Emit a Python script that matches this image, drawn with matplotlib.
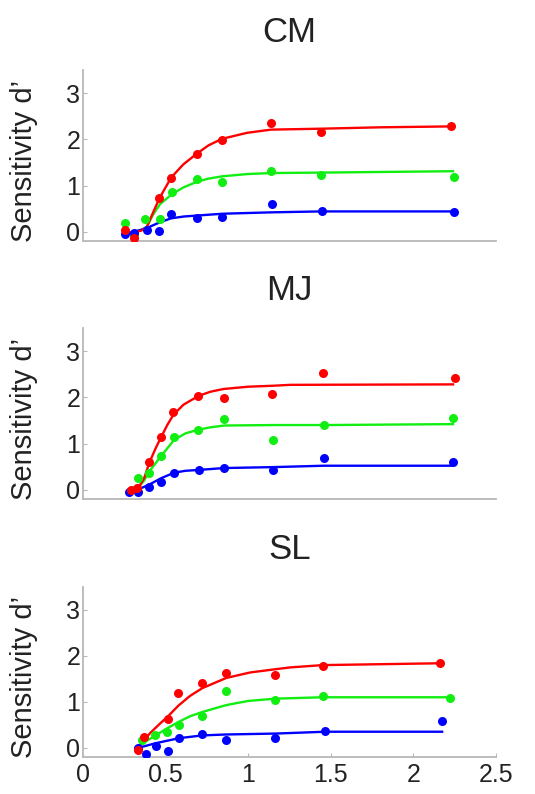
import numpy as np
import matplotlib
matplotlib.use('Agg')
import matplotlib.pyplot as plt

plt.rcParams['font.family'] = ['Liberation Sans', 'DejaVu Sans']

observers = ['CM', 'MJ', 'SL']

# measured points, per observer and colour
cm_red_x = [0.255, 0.31, 0.462, 0.533, 0.689, 0.841, 1.139, 1.441, 2.23]
cm_red_y = [0.03, -0.14, 0.72, 1.17, 1.68, 1.99, 2.36, 2.16, 2.28]
cm_green_x = [0.255, 0.311, 0.376, 0.467, 0.538, 0.689, 0.844, 1.139, 1.441, 2.248]
cm_green_y = [0.20, -0.06, 0.27, 0.27, 0.87, 1.14, 1.07, 1.32, 1.23, 1.18]
cm_blue_x = [0.255, 0.311, 0.386, 0.462, 0.533, 0.689, 0.844, 1.144, 1.447, 2.244]
cm_blue_y = [-0.05, -0.03, 0.04, 0.02, 0.38, 0.29, 0.31, 0.60, 0.44, 0.42]

mj_red_x = [0.289, 0.325, 0.402, 0.473, 0.547, 0.699, 0.855, 1.147, 1.453, 2.253]
mj_red_y = [0.0, 0.04, 0.59, 1.14, 1.68, 2.03, 1.99, 2.07, 2.52, 2.42]
mj_green_x = [0.331, 0.402, 0.473, 0.552, 0.699, 0.855, 1.152, 1.457, 2.242]
mj_green_y = [0.25, 0.36, 0.73, 1.14, 1.30, 1.53, 1.08, 1.40, 1.55]
mj_blue_x = [0.281, 0.331, 0.402, 0.473, 0.552, 0.703, 0.855, 1.153, 1.457, 2.242]
mj_blue_y = [-0.04, -0.04, 0.07, 0.17, 0.37, 0.43, 0.47, 0.43, 0.68, 0.59]

sl_red_x = [0.335, 0.37, 0.513, 0.578, 0.723, 0.867, 1.164, 1.45, 2.158]
sl_red_y = [-0.05, 0.24, 0.63, 1.20, 1.41, 1.63, 1.59, 1.77, 1.84]
sl_green_x = [0.355, 0.436, 0.507, 0.582, 0.723, 0.867, 1.164, 1.45, 2.22]
sl_green_y = [0.17, 0.28, 0.35, 0.49, 0.69, 1.23, 1.05, 1.12, 1.09]
sl_blue_x = [0.335, 0.38, 0.44, 0.513, 0.582, 0.723, 0.867, 1.164, 1.467, 2.174]
sl_blue_y = [0.0, -0.13, 0.05, -0.08, 0.22, 0.29, 0.16, 0.22, 0.37, 0.58]

# fitted curves
cm_red_fx = [0.31, 0.35, 0.386, 0.416, 0.462, 0.533, 0.608, 0.689, 0.76, 0.841, 0.992, 1.139, 1.44, 1.8, 2.24]
cm_red_fy = [0.0, 0.02, 0.10, 0.35, 0.72, 1.17, 1.46, 1.69, 1.87, 2.01, 2.14, 2.21, 2.23, 2.26, 2.28]
cm_green_fx = [0.305, 0.35, 0.386, 0.426, 0.467, 0.537, 0.608, 0.689, 0.76, 0.844, 1.0, 1.139, 1.44, 2.24]
cm_green_fy = [0.0, 0.03, 0.11, 0.38, 0.60, 0.81, 0.96, 1.08, 1.15, 1.20, 1.25, 1.27, 1.28, 1.31]
cm_blue_fx = [0.28, 0.31, 0.386, 0.462, 0.533, 0.61, 0.689, 0.844, 1.139, 1.44, 2.24]
cm_blue_fy = [-0.02, 0.0, 0.08, 0.20, 0.29, 0.33, 0.35, 0.39, 0.42, 0.44, 0.44]

mj_red_fx = [0.305, 0.335, 0.37, 0.402, 0.44, 0.473, 0.51, 0.547, 0.608, 0.699, 0.77, 0.85, 1.0, 1.147, 1.255, 2.24]
mj_red_fy = [0.0, 0.04, 0.25, 0.59, 0.90, 1.14, 1.40, 1.62, 1.84, 2.03, 2.12, 2.18, 2.23, 2.25, 2.27, 2.28]
mj_green_fx = [0.305, 0.335, 0.37, 0.402, 0.473, 0.552, 0.62, 0.699, 0.77, 0.855, 1.15, 1.457, 2.24]
mj_green_fy = [0.0, 0.05, 0.20, 0.40, 0.73, 1.08, 1.22, 1.30, 1.35, 1.39, 1.40, 1.40, 1.42]
mj_blue_fx = [0.305, 0.33, 0.40, 0.473, 0.552, 0.62, 0.703, 0.855, 1.153, 1.457, 2.24]
mj_blue_fy = [-0.02, 0.0, 0.11, 0.25, 0.37, 0.41, 0.43, 0.47, 0.49, 0.52, 0.52]

sl_red_fx = [0.335, 0.37, 0.406, 0.467, 0.513, 0.578, 0.648, 0.723, 0.867, 1.012, 1.164, 1.255, 1.45, 2.158]
sl_red_fy = [0.0, 0.16, 0.32, 0.53, 0.68, 0.92, 1.13, 1.30, 1.52, 1.64, 1.71, 1.75, 1.80, 1.84]
sl_green_fx = [0.335, 0.38, 0.426, 0.507, 0.582, 0.65, 0.723, 0.867, 1.0, 1.164, 1.45, 2.22]
sl_green_fy = [0.04, 0.14, 0.24, 0.42, 0.57, 0.69, 0.78, 0.93, 1.02, 1.07, 1.10, 1.10]
sl_blue_fx = [0.335, 0.44, 0.582, 0.723, 0.867, 1.164, 1.467, 2.174]
sl_blue_fy = [0.0, 0.10, 0.21, 0.27, 0.29, 0.31, 0.35, 0.35]

x_ticks = [0, 0.5, 1, 1.5, 2, 2.5]
x_ticklabels = ['0', '0.5', '1', '1.5', '2', '2.5']
y_ticks = [0, 1, 2, 3]

colors = {'red': '#ff0000', 'green': '#11ee11', 'blue': '#0000ff'}

panels = [
    {'red': (cm_red_x, cm_red_y, cm_red_fx, cm_red_fy),
     'green': (cm_green_x, cm_green_y, cm_green_fx, cm_green_fy),
     'blue': (cm_blue_x, cm_blue_y, cm_blue_fx, cm_blue_fy)},
    {'red': (mj_red_x, mj_red_y, mj_red_fx, mj_red_fy),
     'green': (mj_green_x, mj_green_y, mj_green_fx, mj_green_fy),
     'blue': (mj_blue_x, mj_blue_y, mj_blue_fx, mj_blue_fy)},
    {'red': (sl_red_x, sl_red_y, sl_red_fx, sl_red_fy),
     'green': (sl_green_x, sl_green_y, sl_green_fx, sl_green_fy),
     'blue': (sl_blue_x, sl_blue_y, sl_blue_fx, sl_blue_fy)},
]

fig = plt.figure(figsize=(5.35, 7.94), dpi=100)
W, H = 535., 794.
boxes = [(70, 241), (328, 499), (587, 757)]  # top, bottom in pixels

for i, (name, data, (top, bot)) in enumerate(zip(observers, panels, boxes)):
    ax = fig.add_axes([83 / W, 1 - bot / H, 413 / W, (bot - top) / H])
    for c in ['green', 'blue', 'red']:
        px, py, fx, fy = data[c]
        ax.plot(fx, fy, color=colors[c], lw=1.7, zorder=2)
        ax.plot(px, py, 'o', color=colors[c], ms=6.5, mec='none', zorder=3)
    ax.set_xlim(0, 2.5)
    ax.set_ylim(-0.2, 3.5)
    ax.set_yticks(y_ticks)
    ax.set_xticks(x_ticks)
    for s in ['top', 'right']:
        ax.spines[s].set_visible(False)
    for s in ['left', 'bottom']:
        ax.spines[s].set_color('#b8b8b8')
        ax.spines[s].set_linewidth(1.3)
    ax.tick_params(axis='y', direction='in', length=3, color='#b8b8b8',
                   labelsize=18, pad=2, labelcolor='#222222')
    if i < 2:
        ax.tick_params(axis='x', length=0, labelbottom=False)
    else:
        ax.set_xticklabels(x_ticklabels)
        ax.tick_params(axis='x', direction='in', length=3, color='#b8b8b8',
                       labelsize=18, pad=4, labelcolor='#222222')
    ax.set_ylabel('Sensitivity d’', fontsize=21, color='#222222')
    ax.yaxis.set_label_coords(-0.11, 0.47)
    ax.set_title(name, fontsize=25, color='#222222', pad=20)

fig.savefig('out.png', dpi=100)
